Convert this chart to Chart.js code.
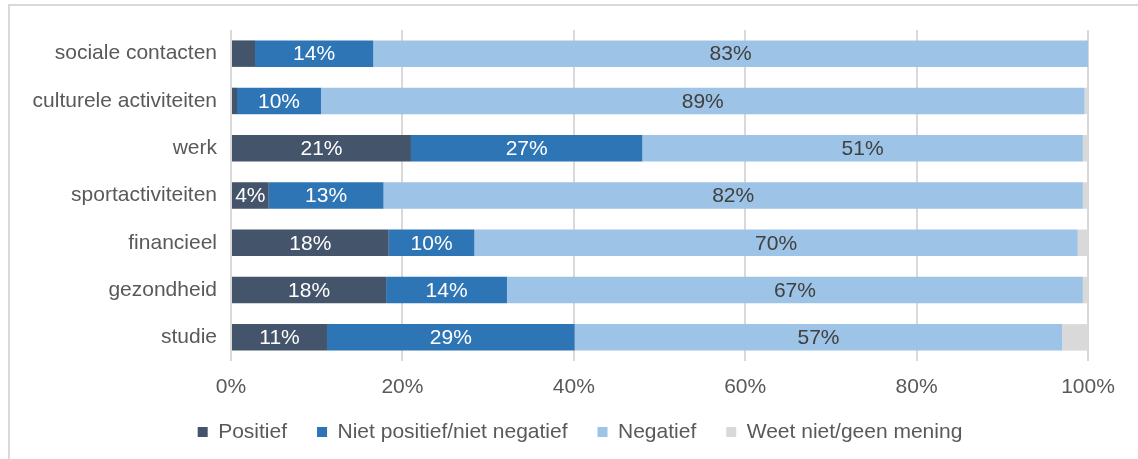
<!DOCTYPE html>
<html>
<head>
<meta charset="utf-8">
<script src="https://cdn.jsdelivr.net/npm/chart.js@4.4.1/dist/chart.umd.min.js"></script>
<style>
    html, body { margin: 0; padding: 0; background: #fff; overflow: hidden; }
    .frame {
        position: absolute; left: 8px; top: 4px; width: 1200px; height: 520px;
        border-left: 2px solid #D9D9D9; border-top: 2px solid #D9D9D9;
    }
    #chart { position: absolute; left: 0; top: 0; }
</style>
</head>
<body>
<div class="frame"></div>
<canvas id="chart" width="1138" height="459" style="width:1138px;height:459px"></canvas>
<script>
// Data (percentages per domain)
const categories = ['sociale contacten', 'culturele activiteiten', 'werk', 'sportactiviteiten', 'financieel', 'gezondheid', 'studie'];
const positief = [2.8, 0.7, 21.0, 4.4, 18.4, 18.1, 11.2];
const neutraal = [13.8, 9.8, 27.0, 13.4, 10.0, 14.1, 28.9];
const negatief = [83.4, 89.1, 51.4, 81.6, 70.4, 67.2, 56.9];
const weetNiet = [0, 0.4, 0.6, 0.6, 1.2, 0.6, 3.0];
const xTicks = [0, 20, 40, 60, 80, 100];

const FONT = "'Liberation Sans', Arial, sans-serif";
Chart.defaults.font.family = FONT;
Chart.defaults.font.size = 21;
Chart.defaults.color = '#595959';

// Draw the value inside each segment (no datalabels plugin available)
const segmentLabels = {
    id: 'segmentLabels',
    afterDatasetsDraw(chart) {
        const ctx = chart.ctx;
        ctx.save();
        ctx.font = '21px ' + FONT;
        ctx.textAlign = 'center';
        ctx.textBaseline = 'middle';
        chart.data.datasets.forEach((ds, i) => {
            if (ds.showValues === false) return;
            chart.getDatasetMeta(i).data.forEach((bar, j) => {
                const v = ds.data[j];
                if (v < 4) return;
                ctx.fillStyle = ds.valueColor;
                ctx.fillText(Math.round(v) + '%', (bar.x + bar.base) / 2, bar.y + 1);
            });
        });
        ctx.restore();
    }
};

// fixed axis sizes; the tick labels may spill outside the (narrow) scale box
function fixSize(prop, size) {
    return (scale) => {
        scale[prop] = size;
        scale._computeLabelArea = () => undefined;
    };
}

new Chart(document.getElementById('chart'), {
    type: 'bar',
    data: {
        labels: categories,
        datasets: [
            { label: 'Positief', data: positief, backgroundColor: '#44546A', valueColor: '#FFFFFF' },
            { label: 'Niet positief/niet negatief', data: neutraal, backgroundColor: '#2E75B6', valueColor: '#FFFFFF' },
            { label: 'Negatief', data: negatief, backgroundColor: '#9DC3E6', valueColor: '#404040' },
            { label: 'Weet niet/geen mening', data: weetNiet, backgroundColor: '#D9D9D9', showValues: false }
        ]
    },
    options: {
        indexAxis: 'y',
        responsive: false,
        animation: false,
        layout: { padding: { left: 72, right: 50, top: 30, bottom: 6.5 } },
        datasets: {
            bar: { categoryPercentage: 1, barPercentage: 0.56, borderWidth: 0 }
        },
        plugins: {
            legend: {
                position: 'bottom',
                labels: { boxWidth: 10, boxHeight: 10, padding: 30, color: '#595959' }
            },
            tooltip: { enabled: false }
        },
        scales: {
            x: {
                stacked: true,
                min: 0,
                max: 100,
                afterBuildTicks: (scale) => { scale.ticks = xTicks.map(v => ({ value: v })); },
                afterFit: fixSize('height', 30.5),
                ticks: { padding: 14, callback: (v) => v + '%' },
                grid: { color: '#D9D9D9', lineWidth: 2, drawTicks: false },
                border: { display: false }
            },
            y: {
                stacked: true,
                afterFit: fixSize('width', 159),
                ticks: { padding: 14 },
                grid: { display: false, drawTicks: false },
                border: { display: false }
            }
        }
    },
    plugins: [segmentLabels]
});
</script>
</body>
</html>
